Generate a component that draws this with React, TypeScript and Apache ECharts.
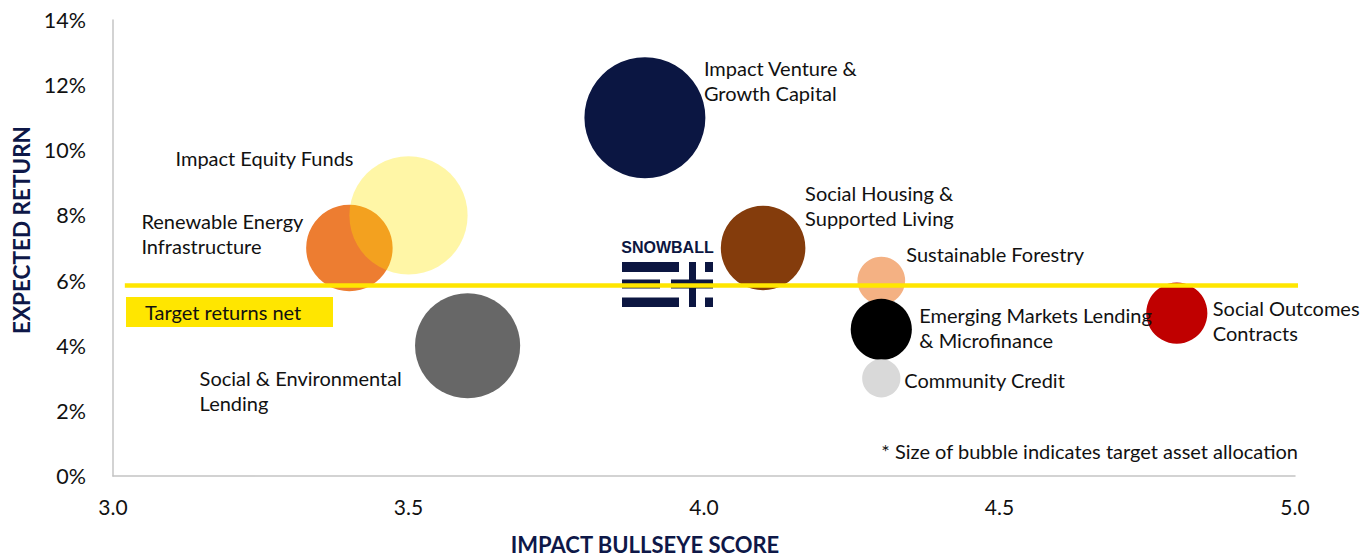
import React, { useEffect, useRef } from "react";
import * as echarts from "echarts";

// ---- data ----
const categories = [
  "Impact Venture & Growth Capital",
  "Renewable Energy Infrastructure",
  "Impact Equity Funds",
  "Social & Environmental Lending",
  "Social Housing & Supported Living",
  "Sustainable Forestry",
  "Emerging Markets Lending & Microfinance",
  "Community Credit",
  "Social Outcomes Contracts",
];
const labelTexts = [
  "Impact Venture &\nGrowth Capital",
  "Renewable Energy\nInfrastructure",
  "Impact Equity Funds",
  "Social & Environmental\nLending",
  "Social Housing &\nSupported Living",
  "Sustainable Forestry",
  "Emerging Markets Lending\n& Microfinance",
  "Community Credit",
  "Social Outcomes\nContracts",
];
const impactScore = [3.9, 3.4, 3.5, 3.6, 4.1, 4.3, 4.3, 4.3, 4.8];
const expectedReturn = [11, 7, 8, 4, 7, 6, 4.5, 3, 5];
const allocation = [22.5, 11.5, 21.5, 17, 11, 3.5, 5.75, 2.25, 5.75];
const targetReturn = 5.85;
const targetLineX = [3.02, 5.04];
const xTicks = { min: 3, max: 5, interval: 0.5 };
const yTicks = { min: 0, max: 14, interval: 2 };

// ---- styles / layout ----
const colors = [
  "#0b1642",
  "#ed7d31",
  "rgba(255,230,0,0.35)",
  "#676767",
  "#843c0c",
  "#f4b183",
  "#000000",
  "#d9d9d9",
  "#c00000",
];
const labelPlacement: { align: string; offset: [number, number] }[] = [
  { align: "left", offset: [59, -37] },
  { align: "left", offset: [-208, -15] },
  { align: "right", offset: [-55, -57] },
  { align: "left", offset: [-268, 45] },
  { align: "left", offset: [42, -43] },
  { align: "left", offset: [25, -27] },
  { align: "left", offset: [38, -2] },
  { align: "left", offset: [23, 2] },
  { align: "left", offset: [36, 7] },
];
const NAVY = "#0e1848";
const YELLOW = "#ffe600";
const FONT = "Lato";
const BUBBLE_SCALE = 25.5;

export default function App() {
  const ref = useRef<HTMLDivElement>(null);
  useEffect(() => {
    if (!ref.current) return;
    const chart = echarts.init(ref.current, null, { renderer: "svg" });
    const data = categories.map((name, i) => ({
      name,
      value: [impactScore[i], expectedReturn[i], allocation[i]],
      symbolSize: BUBBLE_SCALE * Math.sqrt(allocation[i]),
      itemStyle: { color: colors[i], opacity: 1 },
      label: {
        show: true,
        position: "inside",
        align: labelPlacement[i].align,
        verticalAlign: "middle",
        offset: labelPlacement[i].offset,
        formatter: labelTexts[i],
        color: "#111",
        fontSize: 20,
        lineHeight: 25,
        fontFamily: FONT,
      },
    }));
    chart.setOption({
      animation: false,
      textStyle: { fontFamily: FONT },
      grid: { left: 113, right: 71, top: 20, bottom: 81, containLabel: false },
      xAxis: {
        type: "value",
        min: xTicks.min,
        max: xTicks.max,
        interval: xTicks.interval,
        axisLine: { show: true, lineStyle: { color: "#c4c4c4", width: 1.5 } },
        axisTick: { show: false },
        splitLine: { show: false },
        axisLabel: {
          formatter: (v: number) => v.toFixed(1),
          fontSize: 21,
          color: "#111",
          margin: 20,
          fontFamily: FONT,
        },
      },
      yAxis: {
        type: "value",
        min: yTicks.min,
        max: yTicks.max,
        interval: yTicks.interval,
        axisLine: { show: true, lineStyle: { color: "#c4c4c4", width: 1.5 } },
        axisTick: { show: false },
        splitLine: { show: false },
        axisLabel: {
          formatter: "{value}%",
          fontSize: 21.5,
          color: "#111",
          margin: 27,
          fontFamily: FONT,
        },
      },
      series: [
        {
          type: "scatter",
          z: 2,
          data,
          emphasis: { disabled: true },
        },
        {
          type: "line",
          z: 5,
          clip: false,
          symbol: "none",
          lineStyle: { color: YELLOW, width: 4.5 },
          data: targetLineX.map((x) => [x, targetReturn]),
        },
      ],
      graphic: [
        {
          type: "rect",
          z: 10,
          shape: { x: 126, y: 297, width: 207, height: 30 },
          style: { fill: YELLOW },
        },
        {
          type: "text",
          z: 11,
          x: 145,
          y: 312,
          style: {
            text: "Target returns net",
            fill: "#111",
            font: `20px ${FONT}`,
            textAlign: "left",
            textVerticalAlign: "middle",
          },
        },
        {
          type: "text",
          z: 11,
          x: 1298,
          y: 451,
          style: {
            text: "* Size of bubble indicates target asset allocation",
            fill: "#111",
            font: `20px ${FONT}`,
            textAlign: "right",
            textVerticalAlign: "middle",
          },
        },
        {
          type: "text",
          z: 11,
          x: 21,
          y: 230,
          rotation: Math.PI / 2,
          style: {
            text: "EXPECTED RETURN",
            fill: NAVY,
            font: `bold 22.5px ${FONT}`,
            textAlign: "center",
            textVerticalAlign: "middle",
          },
        },
        {
          type: "text",
          z: 11,
          x: 645,
          y: 544,
          style: {
            text: "IMPACT BULLSEYE SCORE",
            fill: NAVY,
            font: `bold 22px ${FONT}`,
            textAlign: "center",
            textVerticalAlign: "middle",
          },
        },
        {
          type: "group",
          z: 20,
          children: [
            {
              type: "text",
              x: 667.5,
              y: 247.5,
              style: {
                text: "SNOWBALL",
                fill: "#0c1641",
                font: "bold 16px 'Liberation Sans'",
                textAlign: "center",
                textVerticalAlign: "middle",
              },
            },
            { type: "rect", shape: { x: 622, y: 262, width: 57, height: 10 }, style: { fill: "#0c1641" } },
            { type: "rect", shape: { x: 622, y: 279.5, width: 38, height: 9 }, style: { fill: "#0c1641" } },
            { type: "rect", shape: { x: 622, y: 297.5, width: 57, height: 9.5 }, style: { fill: "#0c1641" } },
            { type: "rect", shape: { x: 689, y: 262, width: 7, height: 45 }, style: { fill: "#0c1641" } },
            { type: "rect", shape: { x: 671, y: 279.5, width: 42, height: 9 }, style: { fill: "#0c1641" } },
            { type: "rect", shape: { x: 705, y: 262, width: 8, height: 10 }, style: { fill: "#0c1641" } },
            { type: "rect", shape: { x: 705, y: 297.5, width: 8, height: 9.5 }, style: { fill: "#0c1641" } },
          ],
        },
      ],
    });
    return () => chart.dispose();
  }, []);
  return (
    <div
      ref={ref}
      style={{ position: "absolute", left: 0, top: 0, width: 1366, height: 557, background: "#fff" }}
    />
  );
}
